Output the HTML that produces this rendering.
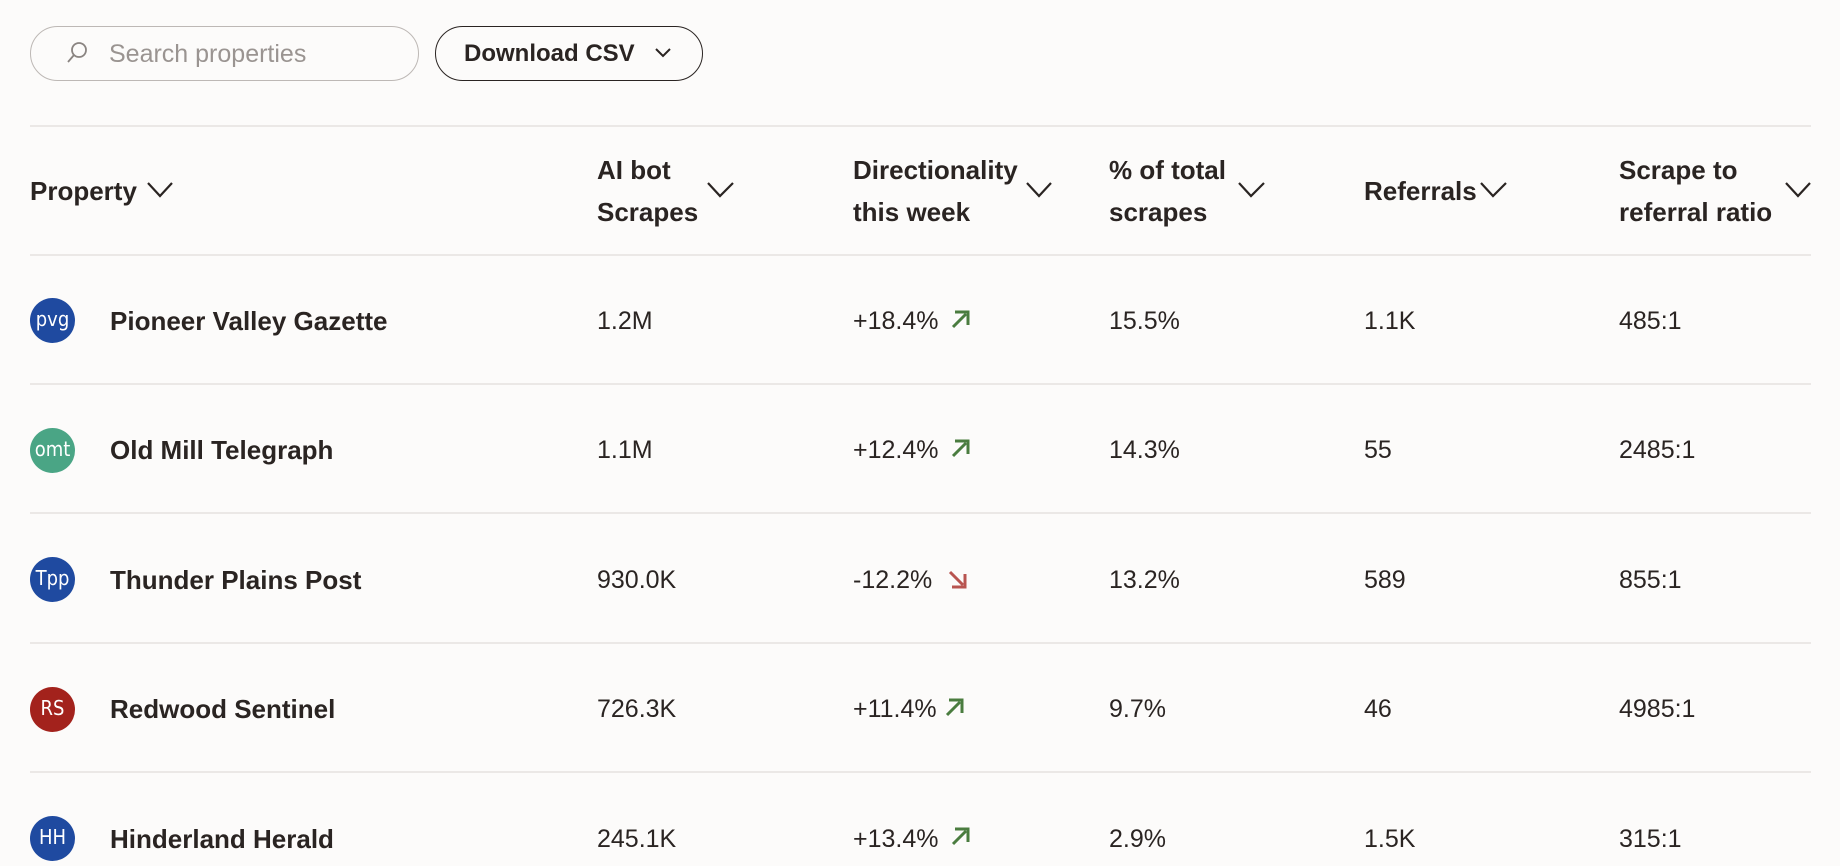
<!DOCTYPE html>
<html><head><meta charset="utf-8"><style>
*{margin:0;padding:0;box-sizing:border-box}
body{width:1840px;height:866px;background:#fcfbfa;font-family:"Liberation Sans",sans-serif;color:#2a2422;position:relative;overflow:hidden}
.a{position:absolute}
.search{left:30px;top:26px;width:389px;height:55px;border:1.5px solid #bdb8b5;border-radius:28px}
.search span{position:absolute;left:78px;top:13px;font-size:25px;color:#9a9491}
.dl{left:435px;top:26px;width:268px;height:55px;border:1.5px solid #2a2422;border-radius:28px}
.dl span{position:absolute;left:28px;top:13px;font-size:24px;font-weight:bold}
.line{left:30px;width:1781px;height:2px;background:#ebe8e6}
.h{font-size:26px;font-weight:bold;line-height:42px}
.c{font-size:25px;line-height:28px}
.n{font-size:26px;font-weight:bold;line-height:28px}
.ic{width:45px;height:45px;border-radius:50%;color:#fff;font-size:20px;text-align:center;line-height:43px;font-family:"DejaVu Sans Condensed","Liberation Sans",sans-serif;font-weight:300}
</style></head><body>
<div class="a search"><svg class="a" style="left:34px;top:13px" width="24" height="26" viewBox="0 0 24 26"><circle cx="14" cy="10" r="7" fill="none" stroke="#8a8481" stroke-width="1.8"/><line x1="9" y1="15" x2="3" y2="22" stroke="#8a8481" stroke-width="1.8"/></svg><span>Search properties</span></div>
<div class="a dl"><span>Download CSV</span><svg class="a" style="left:218px;top:20px" width="18" height="12"><polyline points="2,2 9,9 16,2" fill="none" stroke="#2a2422" stroke-width="2"/></svg></div>
<div class="a line" style="top:125px"></div>
<div class="a line" style="top:254px"></div>
<div class="a line" style="top:383px"></div>
<div class="a line" style="top:512px"></div>
<div class="a line" style="top:642px"></div>
<div class="a line" style="top:771px"></div>

<div class="a h" style="left:30px;top:170px">Property</div>
<div class="a h" style="left:597px;top:149px">AI bot<br>Scrapes</div>
<div class="a h" style="left:853px;top:149px">Directionality<br>this week</div>
<div class="a h" style="left:1109px;top:149px">% of total<br>scrapes</div>
<div class="a h" style="left:1364px;top:170px">Referrals</div>
<div class="a h" style="left:1619px;top:149px">Scrape to<br>referral ratio</div>
<svg class="a" style="left:0;top:0" width="1840" height="260"><g fill="none" stroke="#2a2422" stroke-width="2.2">
<polyline points="148,183 160,196 172,183"/>
<polyline points="708,183 720,196 733,183"/>
<polyline points="1027,183 1039,196 1051,183"/>
<polyline points="1239,183 1251,196 1264,183"/>
<polyline points="1481,183 1493,196 1506,183"/>
<polyline points="1786,183 1798,196 1810,183"/>
</g></svg>

<div class="a ic" style="left:30px;top:298px;background:#1f4aa0">pvg</div>
<div class="a ic" style="left:30px;top:428px;background:#4aa585">omt</div>
<div class="a ic" style="left:30px;top:557px;background:#1f4aa0">Tpp</div>
<div class="a ic" style="left:30px;top:687px;background:#a3221c">RS</div>
<div class="a ic" style="left:30px;top:816px;background:#1f4aa0">HH</div>

<div class="a n" style="left:110px;top:307px">Pioneer Valley Gazette</div>
<div class="a n" style="left:110px;top:436px">Old Mill Telegraph</div>
<div class="a n" style="left:110px;top:566px">Thunder Plains Post</div>
<div class="a n" style="left:110px;top:695px">Redwood Sentinel</div>
<div class="a n" style="left:110px;top:825px">Hinderland Herald</div>

<div class="a c" style="left:597px;top:307px">1.2M</div>
<div class="a c" style="left:597px;top:436px">1.1M</div>
<div class="a c" style="left:597px;top:566px">930.0K</div>
<div class="a c" style="left:597px;top:695px">726.3K</div>
<div class="a c" style="left:597px;top:825px">245.1K</div>

<div class="a c" style="left:853px;top:307px">+18.4%</div>
<div class="a c" style="left:853px;top:436px">+12.4%</div>
<div class="a c" style="left:853px;top:566px">-12.2%</div>
<div class="a c" style="left:853px;top:695px">+11.4%</div>
<div class="a c" style="left:853px;top:825px">+13.4%</div>
<svg class="a" style="left:0;top:0" width="1840" height="866"><g stroke-width="3" fill="none">
<g stroke="#4a7c3f"><line x1="953" y1="327" x2="966" y2="314"/><polyline points="955,312 968,312 968,325"/>
<line x1="953" y1="456" x2="966" y2="443"/><polyline points="955,441 968,441 968,454"/>
<line x1="947" y1="715" x2="960" y2="702"/><polyline points="949,700 962,700 962,713"/>
<line x1="953" y1="844" x2="966" y2="831"/><polyline points="955,829 968,829 968,842"/></g>
<g stroke="#b85450"><line x1="950" y1="572" x2="963" y2="585"/><polyline points="952,587 965,587 965,574"/></g>
</g></svg>

<div class="a c" style="left:1109px;top:307px">15.5%</div>
<div class="a c" style="left:1109px;top:436px">14.3%</div>
<div class="a c" style="left:1109px;top:566px">13.2%</div>
<div class="a c" style="left:1109px;top:695px">9.7%</div>
<div class="a c" style="left:1109px;top:825px">2.9%</div>

<div class="a c" style="left:1364px;top:307px">1.1K</div>
<div class="a c" style="left:1364px;top:436px">55</div>
<div class="a c" style="left:1364px;top:566px">589</div>
<div class="a c" style="left:1364px;top:695px">46</div>
<div class="a c" style="left:1364px;top:825px">1.5K</div>

<div class="a c" style="left:1619px;top:307px">485:1</div>
<div class="a c" style="left:1619px;top:436px">2485:1</div>
<div class="a c" style="left:1619px;top:566px">855:1</div>
<div class="a c" style="left:1619px;top:695px">4985:1</div>
<div class="a c" style="left:1619px;top:825px">315:1</div>
</body></html>
